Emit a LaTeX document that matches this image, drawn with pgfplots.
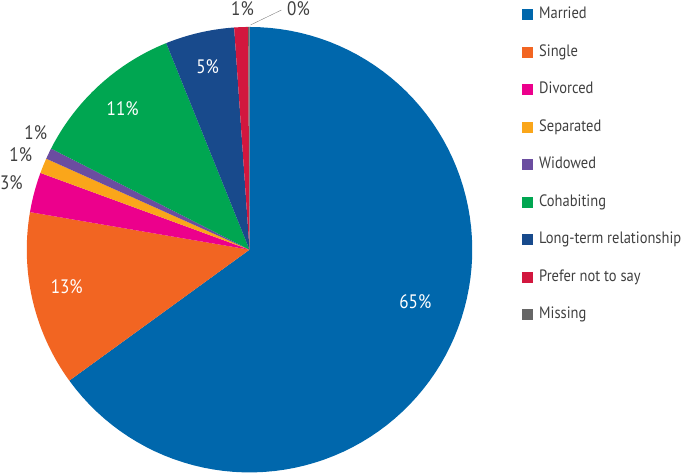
\documentclass[border=0pt]{standalone}
\usepackage{pgfplots}
\pgfplotsset{compat=1.18}
\usepackage{fontspec}
\setmainfont{PT Sans}[FakeStretch=0.88]

\definecolor{cMarried}{RGB}{0,103,172}
\definecolor{cSingle}{RGB}{242,101,34}
\definecolor{cDivorced}{RGB}{236,0,140}
\definecolor{cSeparated}{RGB}{250,166,26}
\definecolor{cWidowed}{RGB}{107,77,160}
\definecolor{cCohab}{RGB}{0,166,81}
\definecolor{cLongterm}{RGB}{24,74,140}
\definecolor{cPrefer}{RGB}{210,23,62}
\definecolor{cMissing}{RGB}{102,102,102}
\definecolor{txt}{RGB}{64,64,64}

% pie centre and radius (axis units = pixels)
\def\cx{249}\def\cy{224}\def\rr{223}
\gdef\cumang{90}
% one slice, clockwise from the top: value (%), colour, legend text
\newcommand\pieslice[3]{%
  \pgfmathsetmacro\angA{\cumang}%
  \pgfmathsetmacro\angB{\cumang-3.6*#1}%
  \xdef\cumang{\angB}%
  \edef\doslice{\noexpand\addplot[fill=#2, draw=none, domain=\angB:\angA, samples=90]
    ({\cx+\rr*cos(x)},{\cy+\rr*sin(x)}) -- (\cx,\cy) -- cycle;}%
  \doslice
  \addlegendentry{#3}%
}

\begin{document}
\begin{tikzpicture}
\begin{axis}[
    width=685pt, height=474pt, scale only axis,
    xmin=0, xmax=685, ymin=0, ymax=474,
    hide axis, clip=false,
    legend image code/.code={\fill[#1] (0pt,-5.5pt) rectangle (11pt,5.5pt);},
    legend style={draw=none, fill=none, inner sep=0pt, outer sep=0pt,
        at={(axis cs:522,468)}, anchor=north west,
        row sep=20.6pt, column sep=6pt,
        font=\fontsize{16.5}{20}\selectfont, text=txt,
        nodes={inner sep=0pt, text height=12.5pt, text depth=4.5pt}},
    legend cell align=left,
]
\pieslice{65.0}{cMarried}{Married}
\pieslice{12.7}{cSingle}{Single}
\pieslice{2.9}{cDivorced}{Divorced}
\pieslice{1.1}{cSeparated}{Separated}
\pieslice{0.8}{cWidowed}{Widowed}
\pieslice{11.4}{cCohab}{Cohabiting}
\pieslice{5.0}{cLongterm}{Long-term relationship}
\pieslice{1.0}{cPrefer}{Prefer not to say}
\pieslice{0.1}{cMissing}{Missing}

\begin{scope}[every node/.style={font=\fontsize{19.5}{22}\selectfont, inner sep=0pt}]
\node[white] at (axis cs:415,172) {65\%};
\node[white] at (axis cs:66,187) {13\%};
\node[white] at (axis cs:122,365) {11\%};
\node[white] at (axis cs:207,407) {5\%};
\node[txt, anchor=east] at (axis cs:22,291) {3\%};
\node[txt] at (axis cs:20,319) {1\%};
\node[txt] at (axis cs:35,341) {1\%};
\node[txt] at (axis cs:242,465) {1\%};
\node[txt] at (axis cs:298,465) {0\%};
\end{scope}
\draw[gray, thin] (axis cs:250,449) -- (axis cs:281,464);
\path (axis cs:0,0) rectangle (axis cs:685,474);
\end{axis}
\end{tikzpicture}
\end{document}
